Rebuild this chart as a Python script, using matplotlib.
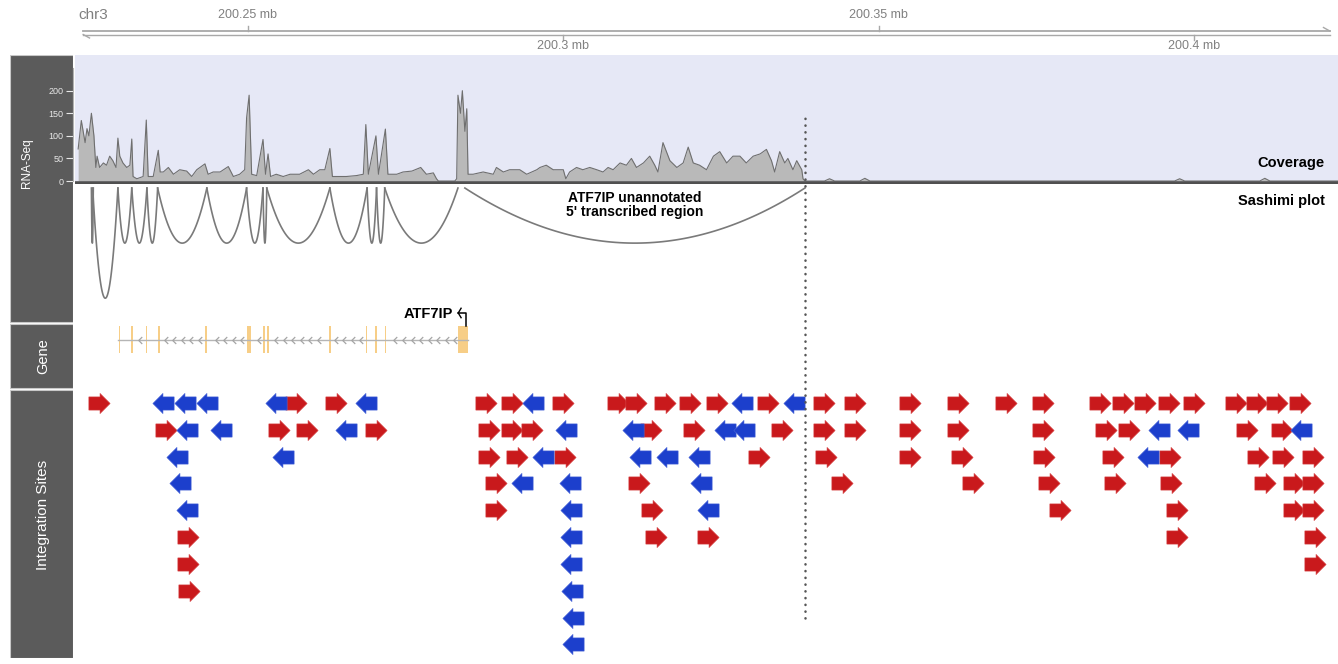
import numpy as np
import matplotlib
matplotlib.use("Agg")
import matplotlib.pyplot as plt
from matplotlib.path import Path
from matplotlib.patches import Rectangle

plt.rcParams['font.family'] = ['Liberation Sans', 'DejaVu Sans']

# ---------------- data (genomic positions in kb on chr3) ----------------
view_left, view_right = 200222.6, 200422.8
ruler_start, ruler_end = 200223.9, 200421.5
ruler_ticks = [200250, 200300, 200350, 200400]
ruler_labels = ['200.25 mb', '200.3 mb', '200.35 mb', '200.4 mb']

cov_pos = [200223.1, 200223.6, 200224.2, 200224.5, 200224.8, 200225.2, 200225.6, 200225.9,
           200226.1, 200226.5, 200227.1, 200227.6, 200228.1, 200228.6, 200229.1, 200229.4,
           200229.7, 200230.2, 200230.8, 200231.3, 200231.6, 200231.8, 200232.4, 200233.4,
           200233.9, 200234.2, 200235.0, 200235.8, 200236.1, 200236.6, 200237.4, 200238.2,
           200239.2, 200240.3, 200241.1, 200241.9, 200242.4, 200243.2, 200243.7, 200244.5,
           200245.6, 200246.9, 200247.7, 200248.7, 200249.5, 200249.8, 200250.2, 200250.6,
           200251.4, 200252.4, 200252.8, 200253.2, 200253.6, 200254.5, 200255.6, 200256.7,
           200258.2, 200259.6, 200260.4, 200261.4, 200262.2, 200263.0, 200263.4, 200264.6,
           200265.6, 200267.2, 200268.3, 200268.7, 200269.1, 200270.3, 200270.7, 200271.8,
           200272.2, 200273.6, 200274.6, 200276.0, 200277.4, 200278.3, 200279.4, 200279.9,
           200280.2, 200282.8, 200283.1, 200283.3, 200283.7, 200284.0, 200284.4, 200284.7,
           200284.9, 200285.7, 200287.3, 200288.9, 200289.4, 200290.5, 200291.5, 200293.1,
           200294.2, 200295.8, 200296.3, 200297.3, 200298.4, 200300.0, 200300.4, 200301.0,
           200302.1, 200303.1, 200304.2, 200305.3, 200306.3, 200307.1, 200307.9, 200309.0,
           200310.0, 200310.8, 200311.6, 200312.7, 200313.7, 200314.5, 200315.0, 200315.8,
           200316.9, 200318.0, 200319.0, 200319.8, 200320.6, 200321.6, 200322.7, 200323.8,
           200324.8, 200325.9, 200326.9, 200328.0, 200329.0, 200330.1, 200331.2, 200332.2,
           200333.0, 200333.5, 200334.3, 200335.1, 200335.6, 200336.4, 200337.0, 200337.8,
           200338.0, 200338.3, 200341.4, 200342.2, 200343.0, 200347.0, 200347.8, 200348.6,
           200396.9, 200397.7, 200398.5, 200410.4, 200411.2, 200412.0, 200422.8]
cov_depth = [71, 134, 85, 116, 100, 150, 100, 30,
             55, 30, 40, 35, 55, 45, 30, 95,
             55, 40, 30, 35, 93, 10, 5, 10,
             135, 10, 10, 68, 20, 20, 30, 15,
             25, 22, 10, 25, 30, 38, 15, 20,
             20, 32, 10, 15, 25, 140, 190, 15,
             12, 92, 15, 60, 10, 15, 10, 15,
             15, 25, 15, 25, 25, 72, 10, 10,
             10, 12, 15, 125, 15, 100, 15, 115,
             15, 15, 20, 22, 30, 15, 18, 5,
             0, 0, 5, 190, 150, 200, 110, 160,
             15, 15, 20, 15, 30, 20, 25, 25,
             15, 25, 30, 35, 25, 25, 5, 20,
             30, 25, 30, 25, 20, 30, 25, 40,
             35, 50, 30, 40, 55, 35, 20, 85,
             45, 30, 40, 75, 40, 35, 25, 55,
             65, 40, 55, 55, 40, 55, 60, 70,
             45, 20, 65, 40, 50, 25, 45, 25,
             5, 0, 0, 5, 0, 0, 6, 0,
             0, 5, 0, 0, 6, 0, 0]
cov_yticks = [0, 50, 100, 150, 200]

junc_start = [200225.2, 200225.4, 200229.4, 200231.6, 200234.0, 200235.7, 200243.5, 200249.8,
              200252.4, 200253.0, 200263.0, 200268.9, 200270.4, 200271.7, 200284.4]
junc_end = [200225.5, 200229.4, 200231.6, 200234.0, 200235.7, 200243.5, 200249.8, 200252.4,
            200253.0, 200263.0, 200268.9, 200270.4, 200271.7, 200283.3, 200338.3]
junc_height = [1, 2, 1, 1, 1, 1, 1, 1, 1, 1, 1, 1, 1, 1, 1]

gene_name = 'ATF7IP'
gene_start, gene_end = 200229.4, 200284.9
exon_start = [200229.5, 200231.5, 200233.8, 200235.8, 200243.2, 200249.8, 200252.4,
              200253.1, 200262.9, 200268.7, 200270.2, 200271.7, 200283.3]
exon_end = [200229.75, 200231.75, 200234.05, 200236.05, 200243.45, 200250.5, 200252.65,
            200253.35, 200263.15, 200268.95, 200270.45, 200271.95, 200284.9]

novel_region_end = 200338.3

# integration sites, one list per stacking row, with strand strings
sites_row0 = [200226.4, 200236.6, 200240.0, 200243.5, 200254.5, 200257.7, 200264.0, 200268.8,
              200287.7, 200291.8, 200295.2, 200299.9, 200308.6, 200311.6, 200316.1, 200320.1,
              200324.3, 200328.3, 200332.5, 200336.5, 200341.3, 200346.2, 200355.0, 200362.6,
              200370.1, 200376.0, 200385.0, 200388.7, 200392.2, 200396.0, 200400.0, 200406.7,
              200409.9, 200413.1, 200416.8]
strand_row0 = '+----++-' '++-++++++-+-' '+++++++++++++++'
sites_row1 = [200237.0, 200240.4, 200245.8, 200255.0, 200259.3, 200265.5, 200270.3,
              200288.2, 200291.8, 200295.1, 200300.4, 200311.0, 200313.9, 200320.7, 200325.6,
              200328.6, 200334.6, 200341.4, 200346.2, 200355.0, 200362.6, 200376.1, 200386.1,
              200389.6, 200394.5, 200399.0, 200408.3, 200413.9, 200417.0]
strand_row1 = '+--++-+' '+++--++--+' '+++++++--++-'
sites_row2 = [200238.7, 200255.6, 200288.2, 200292.7, 200296.8, 200300.2, 200312.1, 200316.4,
              200321.5, 200331.0, 200341.7, 200355.0, 200363.2, 200376.2, 200387.2, 200392.7,
              200396.2, 200410.1, 200414.1, 200418.9]
strand_row2 = '--' '++-+---+' '+++++-++++'
sites_row3 = [200239.2, 200289.3, 200293.4, 200301.0, 200312.0, 200321.9, 200344.1, 200365.0,
              200377.0, 200387.5, 200396.4, 200411.3, 200415.8, 200418.9]
strand_row3 = '-' '+--+-' '++++++++'
sites_row4 = [200240.4, 200289.3, 200301.3, 200314.1, 200322.9, 200378.8, 200397.3, 200415.8,
              200418.9]
strand_row4 = '-' '+-+-' '++++'
sites_row5 = [200240.5, 200301.3, 200314.7, 200323.0, 200397.3, 200419.1]
strand_row5 = '+-++++'
sites_row6 = [200240.5, 200301.3, 200419.1]
strand_row6 = '+-+'
sites_row7 = [200240.7, 200301.4]
strand_row7 = '+-'
sites_row8 = [200301.5]
strand_row8 = '-'
sites_row9 = [200301.6]
strand_row9 = '-'

site_rows = [sites_row0, sites_row1, sites_row2, sites_row3, sites_row4,
             sites_row5, sites_row6, sites_row7, sites_row8, sites_row9]
strand_rows = [strand_row0, strand_row1, strand_row2, strand_row3, strand_row4,
               strand_row5, strand_row6, strand_row7, strand_row8, strand_row9]

# ---------------- figure ----------------
W, H = 1338, 664
fig = plt.figure(figsize=(W / 100, H / 100), dpi=100)


def add_px_axes(top, bottom, left=75, right=1338):
    return fig.add_axes([left / W, 1 - bottom / H, (right - left) / W, (bottom - top) / H])


# dark track label panel
ax_p = add_px_axes(55, 658, 10, 73)
ax_p.set_xlim(0, 1)
ax_p.set_ylim(658, 55)
ax_p.axis('off')
for top, bot in [(55, 322), (324, 388), (390, 658)]:
    ax_p.add_patch(Rectangle((0, top), 1, bot - top, facecolor='#5b5b5b',
                             edgecolor='#c8c8c8', lw=0.8))
ax_p.text(0.27, 163, 'RNA-Seq', rotation=90, color='white', fontsize=8.5,
          ha='center', va='center')
ax_p.text(0.52, 356, 'Gene', rotation=90, color='white', fontsize=10.5,
          ha='center', va='center')
ax_p.text(0.52, 515, 'Integration Sites', rotation=90, color='white', fontsize=11,
          ha='center', va='center')

# genome ruler
ax_r = add_px_axes(0, 55)
ax_r.set_xlim(view_left, view_right)
ax_r.set_ylim(55, 0)
ax_r.axis('off')
rc = '#a8a8a8'
ax_r.plot([ruler_start, ruler_end], [31, 31], color=rc, lw=1.3)
ax_r.plot([ruler_start, ruler_end], [34.5, 34.5], color=rc, lw=1.0)
ax_r.plot([ruler_start, ruler_start + 1.0], [34.5, 38], color=rc, lw=1.0)
ax_r.plot([ruler_end, ruler_end - 1.0], [31, 27.5], color=rc, lw=1.0)
for i, (tk, lab) in enumerate(zip(ruler_ticks, ruler_labels)):
    if i % 2 == 0:
        ax_r.plot([tk, tk], [31, 25.5], color=rc, lw=1.0)
        ax_r.text(tk, 15, lab, ha='center', va='center', fontsize=9, color='#808080')
    else:
        ax_r.plot([tk, tk], [34.5, 40], color=rc, lw=1.0)
        ax_r.text(tk, 46, lab, ha='center', va='center', fontsize=9, color='#808080')
ax_r.text(view_left + 0.6, 15, 'chr3', ha='left', va='center', fontsize=11, color='#808080')

# coverage
ax_c = add_px_axes(55, 184)
ax_c.set_facecolor('#e6e8f6')
ax_c.set_xlim(view_left, view_right)
ax_c.set_ylim(-6.6, 279)
ax_c.fill_between(cov_pos, 0, cov_depth, color='#b9b9b9', lw=0)
ax_c.plot(cov_pos, cov_depth, color='#6f6f6f', lw=0.8)
ax_c.axhline(-3.5, color='#505050', lw=2.6)
ax_c.set_xticks([])
ax_c.set_yticks(cov_yticks)
ax_c.tick_params(axis='y', colors='#e8e8e8', labelsize=6.5, length=5, width=0.8, pad=2)
for s in ['top', 'right', 'bottom']:
    ax_c.spines[s].set_visible(False)
ax_c.spines['left'].set_color('#b0b0b0')
ax_c.spines['left'].set_bounds(0, 250)
ax_c.spines['left'].set_position(('outward', 1.5))
ax_c.text(0.9897, 0.163, 'Coverage', transform=ax_c.transAxes, ha='right',
          va='center', fontsize=10.5, fontweight='bold')

# sashimi arcs
ax_s = add_px_axes(184, 323)
ax_s.set_xlim(view_left, view_right)
ax_s.set_ylim(-2.45, 0.073)
ax_s.axis('off')
t = np.linspace(0, 1, 80)
for s0, e0, h in zip(junc_start, junc_end, junc_height):
    ax_s.plot(s0 + (e0 - s0) * t, -h * 4 * t * (1 - t), color='#7a7a7a', lw=1.2)
ax_s.text(0.9897, 0.878, 'Sashimi plot', transform=ax_s.transAxes, ha='right',
          va='center', fontsize=10.5, fontweight='bold')
ax_s.text((junc_start[-1] + junc_end[-1]) / 2, -0.31,
          f"{gene_name} unannotated\n5' transcribed region",
          ha='center', va='center', fontsize=10, fontweight='bold', linespacing=1.05)

# gene model
ax_g = add_px_axes(300, 389)
ax_g.set_xlim(view_left, view_right)
ax_g.set_ylim(-3.63, 2.96)
ax_g.axis('off')
ax_g.plot([gene_start, gene_end], [0, 0], color='#b5b5b5', lw=1.0)
chev = Path([(0.5, 1), (-0.5, 0), (0.5, -1)], [Path.MOVETO, Path.LINETO, Path.LINETO])
chev_x = [x for x in np.arange(gene_start + 0.8, gene_end - 0.8, 1.35)
          if all(abs(x - (a + b) / 2) > 0.6 for a, b in zip(exon_start, exon_end))]
ax_g.plot(chev_x, [0] * len(chev_x), ls='none', marker=chev, ms=5,
          mfc='none', mec='#a5a5a5', mew=0.9)
for a, b in zip(exon_start, exon_end):
    ax_g.add_patch(Rectangle((a, -1), b - a, 2, facecolor='#f7c97a', edgecolor='none',
                             alpha=0.9))
tss = exon_end[-1] - 0.35
ax_g.plot([tss, tss, tss - 1.2], [1.0, 2.0, 2.0], color='black', lw=1.1)
ax_g.plot([tss - 0.75, tss - 1.2, tss - 0.75], [2.35, 2.0, 1.65], color='black', lw=1.0)
ax_g.text(tss - 2.0, 1.9, gene_name, ha='right', va='center', fontsize=10.5,
          fontweight='bold')

# integration sites
ax_i = add_px_axes(390, 658)
ax_i.set_xlim(view_left, view_right)
ax_i.set_ylim(9.51, -0.485)
ax_i.axis('off')
arrow_r = Path([(-1, -0.62), (0.05, -0.62), (0.05, -0.95), (1, 0), (0.05, 0.95),
                (0.05, 0.62), (-1, 0.62), (-1, -0.62)], closed=True)
arrow_l = Path([(-x, y) for x, y in arrow_r.vertices], closed=True)
pos = np.concatenate([np.array(r, dtype=float) for r in site_rows])
row = np.concatenate([np.full(len(r), i) for i, r in enumerate(site_rows)])
strand = np.array(list(''.join(strand_rows)))
fwd = strand == '+'
ax_i.scatter(pos[fwd], row[fwd], marker=arrow_r, s=235, color='#c9191c',
             edgecolors='#d84a4a', linewidths=0.4)
ax_i.scatter(pos[~fwd], row[~fwd], marker=arrow_l, s=235, color='#1c3fcc',
             edgecolors='#4a66d8', linewidths=0.4)

# boundary of the unannotated transcribed region
ax_o = add_px_axes(55, 658)
ax_o.set_xlim(view_left, view_right)
ax_o.axis('off')
ax_o.axvline(novel_region_end, ymin=0.066, ymax=0.90, color='#555555', lw=1.8,
             ls=(0, (0.1, 2.6)), dash_capstyle='round')

fig.savefig('out.png', dpi=100)
